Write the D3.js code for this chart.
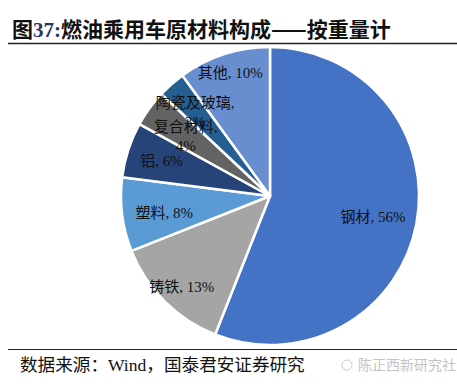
<!DOCTYPE html>
<meta charset="utf-8">
<script src="https://cdn.jsdelivr.net/npm/d3@7"></script>
<style>
body { margin: 0; background: #fff; }
.lbl { font-family: "Liberation Serif", "Noto Sans CJK SC", serif; font-size: 15px; fill: #111; }
</style>
<body>
</body>
<script>
// data
var categories = ["钢材", "铸铁", "塑料", "铝", "复合材料", "陶瓷及玻璃", "其他"];
var shares = [56, 13, 8, 6, 4, 3, 10];
var colors = ["#4472C4", "#A5A5A5", "#5B9BD5", "#264478", "#636363", "#255E91", "#698ED0"];
// label text lines per slice
var labelLines = [
  ["钢材, 56%"], ["铸铁, 13%"], ["塑料, 8%"], ["铝, 6%"],
  ["复合材料,", "4%"], ["陶瓷及玻璃,", "3%"], ["其他, 10%"]
];
// label placement: [distance from centre, angle in degrees clockwise from top]
var labelPolar = [[105, 101.5], [127, 224], [107, 261], [114, 288], [103, 305], [112, 318], [129, 342]];

var width = 457, height = 384;
var cx = 270, cy = 196, radius = 149;

var svg = d3.select("body").append("svg")
    .attr("width", width)
    .attr("height", height);

// title
var title = svg.append("text")
    .attr("x", 12)
    .attr("y", 37)
    .attr("font-family", "'Noto Sans CJK SC', sans-serif")
    .attr("font-weight", "bold")
    .attr("font-size", "21px")
    .attr("fill", "#111");
title.append("tspan").text("图");
title.append("tspan").attr("fill", "#1f3864").attr("font-family", "'Liberation Serif', serif").text("37:");
title.append("tspan").text("燃油乘用车原材料构成——按重量计");

svg.append("line")
    .attr("x1", 8).attr("x2", width)
    .attr("y1", 43.5).attr("y2", 43.5)
    .attr("stroke", "#222").attr("stroke-width", 1.5);

// pie
var pie = d3.pie().sort(null).value(function(d) { return d; });
var arc = d3.arc().innerRadius(0).outerRadius(radius);
var arcs = pie(shares);

var g = svg.append("g").attr("transform", "translate(" + cx + "," + cy + ")");
g.selectAll("path")
    .data(arcs)
  .enter().append("path")
    .attr("d", arc)
    .attr("fill", function(d, i) { return colors[i]; })
    .attr("stroke", "#fff")
    .attr("stroke-width", 2.5)
    .attr("stroke-linejoin", "round");

// labels
var lbl = g.selectAll(".lbl")
    .data(arcs)
  .enter().append("text")
    .attr("class", "lbl")
    .attr("text-anchor", "middle")
    .attr("transform", function(d, i) {
      var r = labelPolar[i][0], a = labelPolar[i][1] * Math.PI / 180;
      return "translate(" + (r * Math.sin(a)) + "," + (-r * Math.cos(a)) + ")";
    });
lbl.each(function(d, i) {
  var lines = labelLines[i];
  var t = d3.select(this);
  var lh = 19;
  lines.forEach(function(s, k) {
    t.append("tspan")
      .attr("x", 0)
      .attr("y", (k - (lines.length - 1) / 2) * lh + 5)
      .text(s);
  });
});

// footer
svg.append("line")
    .attr("x1", 8).attr("x2", width)
    .attr("y1", 349.5).attr("y2", 349.5)
    .attr("stroke", "#222").attr("stroke-width", 1.2);

svg.append("text")
    .attr("x", 20)
    .attr("y", 371)
    .attr("font-family", "'Liberation Serif', 'Noto Sans CJK SC', serif")
    .attr("font-size", "17.6px")
    .attr("fill", "#111")
    .text("数据来源：Wind，国泰君安证券研究");

// watermark
svg.append("circle")
    .attr("cx", 347).attr("cy", 365).attr("r", 5)
    .attr("fill", "none").attr("stroke", "#c8c8c8").attr("stroke-width", 1);
svg.append("text")
    .attr("x", 358)
    .attr("y", 370)
    .attr("font-family", "'Noto Sans CJK SC', sans-serif")
    .attr("font-size", "14px")
    .attr("fill", "#c4c4c4")
    .text("陈正西新研究社");
</script>
